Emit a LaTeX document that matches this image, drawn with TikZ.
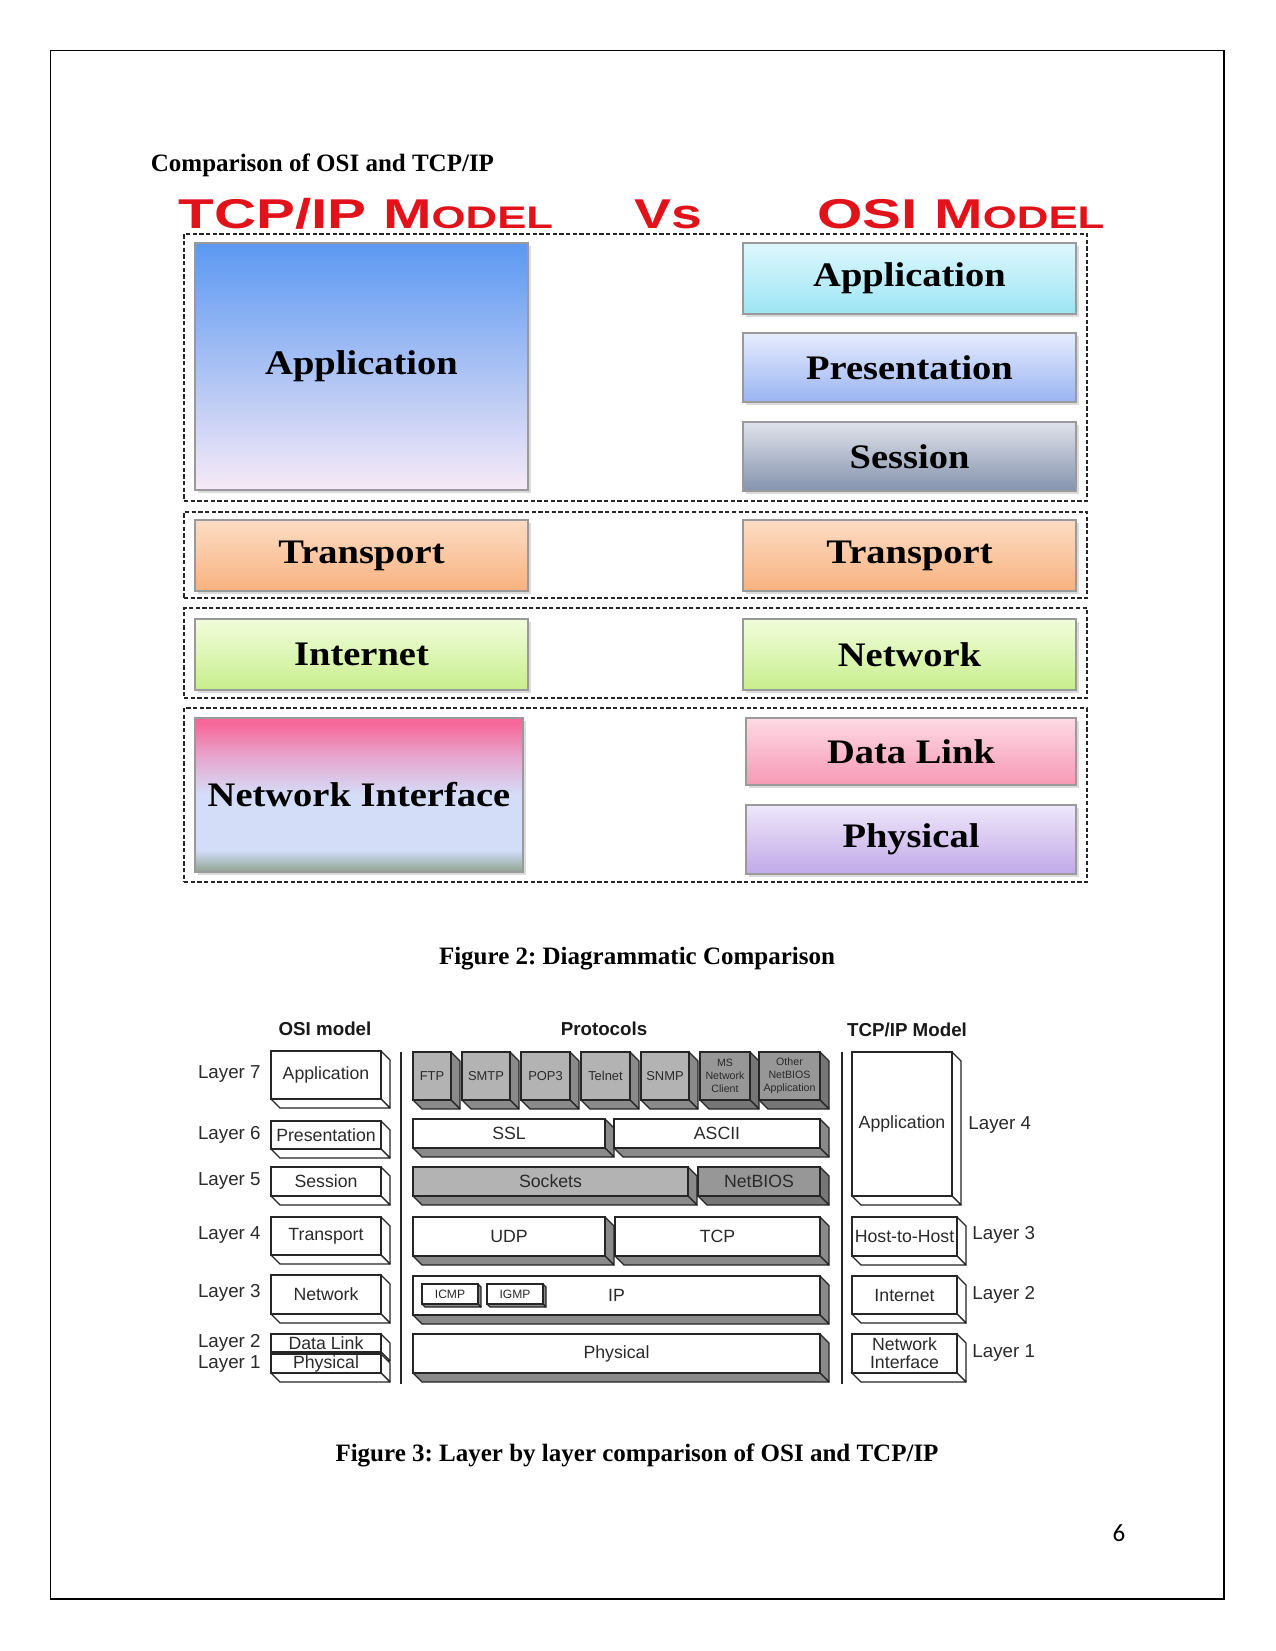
\documentclass[tikz,border=0pt]{standalone}
\usepackage{fontspec}
\usepackage{graphicx}
\setmainfont{Liberation Serif}
\newfontfamily\hsans{Liberation Sans}
\newfontfamily\calib{Carlito}
\usetikzlibrary{shadows}
\frenchspacing

\definecolor{redT}{HTML}{E2121B}
\definecolor{boxline}{HTML}{9A9A9A}
\definecolor{appTop}{HTML}{5B98F2}
\definecolor{appMid}{HTML}{A5C6F2}
\definecolor{appBot}{HTML}{F7EAF7}
\definecolor{trTop}{HTML}{FDDCC4}
\definecolor{trBot}{HTML}{F8B27F}
\definecolor{inTop}{HTML}{F2FDDC}
\definecolor{inBot}{HTML}{C8EE8C}
\definecolor{oaTop}{HTML}{DDF8FD}
\definecolor{oaBot}{HTML}{9DE4F4}
\definecolor{prTop}{HTML}{E6ECFD}
\definecolor{prBot}{HTML}{9AB4F2}
\definecolor{seTop}{HTML}{DFE2EA}
\definecolor{seBot}{HTML}{8593AE}
\definecolor{dlTop}{HTML}{FDDAE4}
\definecolor{dlBot}{HTML}{F799B6}
\definecolor{phTop}{HTML}{EEE7FA}
\definecolor{phBot}{HTML}{C1A9E8}
\definecolor{niG}{HTML}{8DA491}
\definecolor{niG2}{HTML}{B4C4CC}
\definecolor{niB}{HTML}{D3DDF8}
\definecolor{niM}{HTML}{E6A8D0}
\definecolor{niP}{HTML}{F7699A}
\definecolor{gFront}{HTML}{B3B3B3}
\definecolor{gSide}{HTML}{8A8A8A}
\definecolor{dFront}{HTML}{979797}
\definecolor{dSide}{HTML}{767676}
\definecolor{txt}{HTML}{2A2A2A}

\pgfdeclareverticalshading{nishade}{100bp}{color(0bp)=(niG); color(25bp)=(niG); color(29bp)=(niG2); color(32bp)=(niB); color(50bp)=(niB); color(62bp)=(niM); color(73bp)=(niP); color(100bp)=(niP)}

\def\pxu{0.48pt}
\def\dd{9}

\tikzset{
  grp/.style={draw=black!85, line width=0.6pt, dash pattern=on 2pt off 1.2pt, inner sep=0pt},
  fbox/.style={draw=boxline, line width=0.5pt, inner sep=0pt,
    font=\bfseries\fontsize{16.5}{18}\selectfont,
    drop shadow={opacity=0.28, shadow xshift=1.2pt, shadow yshift=-1.3pt}},
  redhead/.style={text=redT, font=\hsans\bfseries\fontsize{20}{22}\selectfont, xscale=1.4, transform shape, inner sep=0pt},
  cubeline/.style={draw=black!85, line width=0.6pt, line join=round},
  cubefront/.style={draw=black!85, line width=0.6pt, inner sep=0pt, align=center, text=txt},
  lab/.style={font=\hsans\fontsize{9}{10}\selectfont, text=txt, inner sep=0pt},
  hdr/.style={font=\hsans\bfseries\fontsize{9}{10}\selectfont, text=black!90, inner sep=0pt},
  captext/.style={font=\bfseries\fontsize{12}{14}\selectfont, inner sep=0pt},
}

\newcommand\fbx[7]{\node[#2, minimum width={(#5-#3)*\pxu}, minimum height={(#6-#4)*\pxu}] (#1) at ({(#3+#5)/2},{(#4+#6)/2}) {\raisebox{-1.4pt}{\scalebox{1.12}[1]{#7}}};}

\newcommand\tdbox[9]{%
  \draw[cubeline, fill=#7] (#4,#3) -- ({#4+\dd},{#3+\dd}) -- ({#4+\dd},{#5+\dd}) -- (#4,#5) -- cycle;
  \draw[cubeline, fill=#7] (#2,#5) -- ({#2+\dd},{#5+\dd}) -- ({#4+\dd},{#5+\dd}) -- (#4,#5) -- cycle;
  \node[cubefront, fill=#6, font={#8}, minimum width={(#4-#2)*\pxu}, minimum height={(#5-#3)*\pxu}] (#1) at ({(#2+#4)/2},{(#3+#5)/2}) {#9};}

\newcommand\fA{\hsans\fontsize{8.5}{10}\selectfont}
\newcommand\fS{\hsans\fontsize{6.2}{7}\selectfont}
\newcommand\fT{\hsans\fontsize{5.1}{6.2}\selectfont}
\newcommand\fI{\hsans\fontsize{5.8}{7}\selectfont}

\begin{document}
\begin{tikzpicture}[x=0.48pt, y=-0.48pt]
\useasboundingbox (0,0) rectangle (1275,1651);
\fill[white] (0,0) rectangle (1275,1651);
\draw[line width=0.6pt] (50.5,50.5) rectangle (1224,1599);

% title
\node[captext, anchor=west] (title) at (150.5,165) {Comparison of OSI and TCP/IP};

% ---------- Figure 2 ----------
\node[redhead] (h1) at (366,214) {TCP/IP M{\fontsize{15}{16}\selectfont ODEL}};
\node[redhead, xscale=0.95] (h2) at (668,214) {Vs};
\node[redhead] (h3) at (961,214) {OSI M{\fontsize{15}{16}\selectfont ODEL}};

\fbx{g1}{grp}{184}{234}{1087}{501}{}
\fbx{g2}{grp}{184}{512}{1087}{598}{}
\fbx{g3}{grp}{184}{608}{1087}{698}{}
\fbx{g4}{grp}{184}{708}{1087}{882}{}

\fbx{tApp}{fbox, top color=appTop, middle color=appMid, bottom color=appBot}{195}{243}{528}{490}{Application}
\fbx{tTr}{fbox, top color=trTop, bottom color=trBot}{195}{520}{528}{591}{Transport}
\fbx{tIn}{fbox, top color=inTop, bottom color=inBot}{195}{619}{528}{690}{Internet}
\fbx{tNI}{fbox, shading=nishade}{195}{718}{523}{872}{Network Interface}

\fbx{oApp}{fbox, top color=oaTop, bottom color=oaBot}{743}{243}{1076}{314}{Application}
\fbx{oPr}{fbox, top color=prTop, bottom color=prBot}{743}{333}{1076}{402}{Presentation}
\fbx{oSe}{fbox, top color=seTop, bottom color=seBot}{743}{422}{1076}{491}{Session}
\fbx{oTr}{fbox, top color=trTop, bottom color=trBot}{743}{520}{1076}{591}{Transport}
\fbx{oNe}{fbox, top color=inTop, bottom color=inBot}{743}{619}{1076}{690}{Network}
\fbx{oDL}{fbox, top color=dlTop, bottom color=dlBot}{746}{718}{1076}{785}{Data Link}
\fbx{oPh}{fbox, top color=phTop, bottom color=phBot}{746}{805}{1076}{874}{Physical}

\node[captext] (cap2) at (637,959) {Figure 2: Diagrammatic Comparison};

% ---------- Figure 3 ----------
\node[hdr] (hOSI) at (325,1029) {OSI model};
\node[hdr] (hPro) at (604,1029) {Protocols};
\node[hdr] (hTCP) at (907,1030) {TCP/IP Model};

% dividers
\coordinate (d1a) at (401,1052); \coordinate (d1b) at (401,1384);
\coordinate (d2a) at (842,1052); \coordinate (d2b) at (842,1384);
\draw[line width=1.1pt, black!85] (d1a) -- (d1b);
\draw[line width=1.1pt, black!85] (d2a) -- (d2b);

% OSI column
\tdbox{s7}{271}{1051}{381}{1099}{white}{white}{\fA}{Application}
\tdbox{s6}{271}{1121}{381}{1149}{white}{white}{\fA}{Presentation}
\tdbox{s5}{271}{1167}{381}{1196}{white}{white}{\fA}{Session}
\tdbox{s4}{271}{1217}{381}{1255}{white}{white}{\fA}{Transport}
\tdbox{s3}{271}{1275}{381}{1314}{white}{white}{\fA}{Network}
\tdbox{s2}{271}{1334}{381}{1352}{white}{white}{\fA}{Data Link}
\tdbox{s1}{271}{1354}{381}{1373}{white}{white}{\fA}{Physical}

\node[lab, anchor=east] (L7) at (261,1074) {Layer 7};
\node[lab, anchor=east] (L6) at (261,1135) {Layer 6};
\node[lab, anchor=east] (L5) at (261,1181) {Layer 5};
\node[lab, anchor=east] (L4) at (261,1235) {Layer 4};
\node[lab, anchor=east] (L3) at (261,1293) {Layer 3};
\node[lab, anchor=east] (L2) at (261,1343) {Layer 2};
\node[lab, anchor=east] (L1) at (261,1364) {Layer 1};

% Protocols
\tdbox{pFTP}{413}{1052}{451}{1100}{gFront}{gSide}{\fS}{FTP}
\tdbox{pSMTP}{462}{1052}{510}{1100}{gFront}{gSide}{\fS}{SMTP}
\tdbox{pPOP}{521}{1052}{570}{1100}{gFront}{gSide}{\fS}{POP3}
\tdbox{pTel}{581}{1052}{630}{1100}{gFront}{gSide}{\fS}{Telnet}
\tdbox{pSNMP}{641}{1052}{689}{1100}{gFront}{gSide}{\fS}{SNMP}
\tdbox{pMS}{700}{1052}{750}{1100}{dFront}{dSide}{\fT}{MS\\Network\\Client}
\tdbox{pOther}{759}{1052}{820}{1100}{dFront}{dSide}{\fT}{Other\\NetBIOS\\Application}

\tdbox{pSSL}{413}{1119}{605}{1148}{white}{gSide}{\fA}{SSL}
\tdbox{pASCII}{614}{1119}{820}{1148}{white}{gSide}{\fA}{ASCII}
\tdbox{pSock}{413}{1167}{688}{1196}{gFront}{gSide}{\fA}{Sockets}
\tdbox{pNB}{698}{1167}{820}{1196}{dFront}{dSide}{\fA}{NetBIOS}
\tdbox{pUDP}{413}{1217}{605}{1256}{white}{gSide}{\fA}{UDP}
\tdbox{pTCP}{615}{1217}{820}{1256}{white}{gSide}{\fA}{TCP}
\tdbox{pIP}{413}{1276}{820}{1315}{white}{gSide}{\fA}{IP}
\def\dd{3}
\tdbox{pICMP}{422}{1284}{478}{1304}{white}{gSide}{\fI}{ICMP}
\tdbox{pIGMP}{487}{1284}{543}{1304}{white}{gSide}{\fI}{IGMP}
\def\dd{9}
\tdbox{pPhy}{413}{1334}{820}{1373}{white}{gSide}{\fA}{Physical}

% TCP/IP column
\tdbox{t4}{852}{1052}{952}{1196}{white}{white}{\fA}{Application}
\tdbox{t3}{852}{1217}{957}{1256}{white}{white}{\fA}{Host-to-Host}
\tdbox{t2}{852}{1276}{957}{1314}{white}{white}{\fA}{Internet}
\tdbox{t1}{852}{1334}{957}{1373}{white}{white}{\fA\baselineskip=8.5pt}{Network\\Interface}

\node[lab, anchor=west] (R4) at (968,1125) {Layer 4};
\node[lab, anchor=west] (R3) at (972,1235) {Layer 3};
\node[lab, anchor=west] (R2) at (972,1295) {Layer 2};
\node[lab, anchor=west] (R1) at (972,1353) {Layer 1};

\node[captext] (cap3) at (637,1455) {Figure 3: Layer by layer comparison of OSI and TCP/IP};

\node[font=\calib\fontsize{12}{14}\selectfont, inner sep=0pt] (pg) at (1119,1533) {6};
\end{tikzpicture}
\end{document}
